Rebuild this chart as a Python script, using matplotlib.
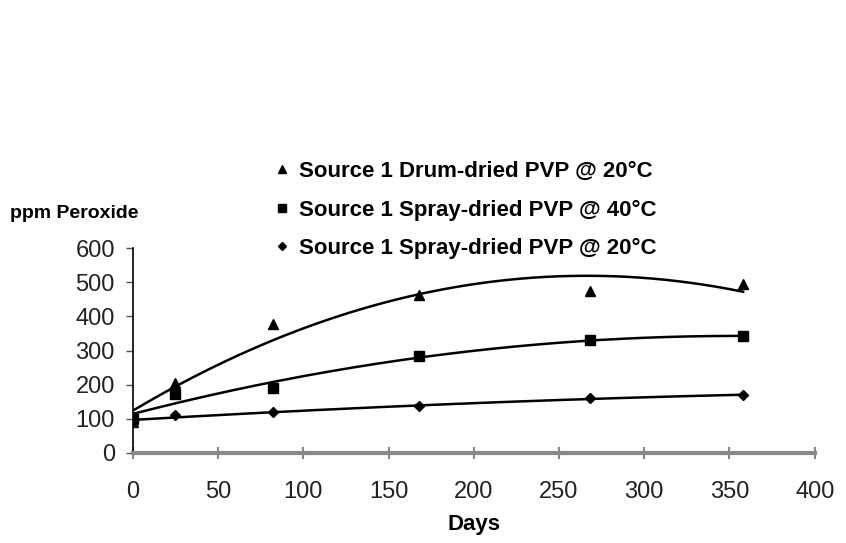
import numpy as np
import matplotlib.pyplot as plt
from matplotlib.lines import Line2D

plt.rcParams['font.family'] = ['Liberation Sans', 'DejaVu Sans']

# Data
days = [0, 25, 82, 168, 268, 358]
drum_20 = [90, 205, 377, 462, 475, 495]
spray_40 = [100, 172, 190, 284, 330, 342]
spray_20 = [92, 110, 119, 136, 160, 170]

labels = ['Source 1 Drum-dried PVP @ 20°C',
          'Source 1 Spray-dried PVP @ 40°C',
          'Source 1 Spray-dried PVP @ 20°C']
markers = ['^', 's', 'D']
msizes = [7, 7, 5]

fig = plt.figure(figsize=(8.46, 5.43), dpi=100)
ax = fig.add_axes([0.157, 0.166, 0.806, 0.377])

xs = np.linspace(0, max(days), 200)
for ys, m, ms in zip([drum_20, spray_40, spray_20], markers, msizes):
    ax.plot(days, ys, m, color='black', ms=ms)
    # polynomial trendline, like the spreadsheet one
    coef = np.polyfit(days, ys, 2)
    ax.plot(xs, np.polyval(coef, xs), color='black', lw=1.8)

ax.set_xlim(0, 400)
ax.set_ylim(0, 600)
ax.set_xticks(range(0, 401, 50))
ax.set_yticks(range(0, 601, 100))
ax.tick_params(labelsize=17, colors='#222222')
ax.tick_params(axis='x', direction='inout', length=8, color='#888888', width=1.5, pad=16)
ax.tick_params(axis='y', direction='out', length=5, color='#555555', width=1, pad=8)
for s in ['top', 'right']:
    ax.spines[s].set_visible(False)
ax.spines['bottom'].set_color('#888888')
ax.spines['bottom'].set_linewidth(3)
ax.spines['left'].set_color('black')
ax.spines['left'].set_linewidth(1.2)
ax.set_xlabel('Days', fontsize=16, fontweight='bold', labelpad=8)

fig.text(0.012, 0.607, 'ppm Peroxide', fontsize=14, fontweight='bold', va='center')

handles = [Line2D([], [], ls='none', marker=m, color='black', ms=ms * 0.8)
           for m, ms in zip(markers, msizes)]
fig.legend(handles, labels, loc='center left', bbox_to_anchor=(0.302, 0.613),
           frameon=False, prop={'weight': 'bold', 'size': 16},
           handlelength=0.6, handletextpad=0.45, labelspacing=0.78)

fig.savefig('out.png', dpi=100)
